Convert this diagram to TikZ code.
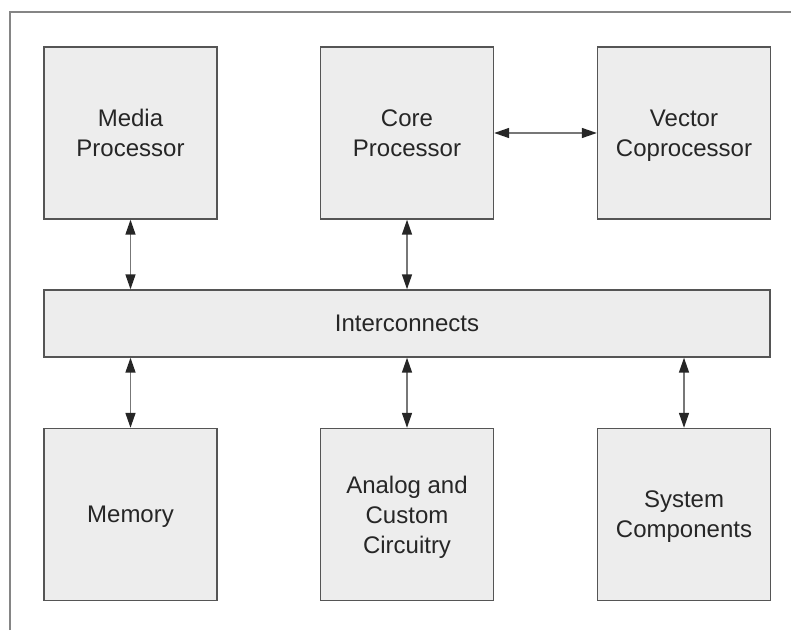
\documentclass[tikz,border=0pt]{standalone}
\usepackage{fontspec}
\setmainfont{Liberation Sans}
\usetikzlibrary{arrows.meta}

\definecolor{boxfill}{HTML}{EDEDED}
\definecolor{boxline}{HTML}{555555}
\definecolor{wire}{HTML}{777777}

\begin{document}
\begin{tikzpicture}[x=1pt,y=1pt,>={Triangle[length=15pt,width=10pt,color=black!85]}]
    % zero depth: text is centred on its cap line and last baseline
    \tikzstyle{block}=[draw=boxline,fill=boxfill,line width=1.4pt,minimum width=173pt,minimum height=172pt,align=center,font=\fontsize{24}{30}\selectfont,text=black!85,text depth=0pt]
    \tikzstyle{link}=[<->,draw=wire,line width=1.5pt]
    \useasboundingbox (0,0) rectangle (791,630);
    % outer frame
    \draw[wire!90,line width=1.3pt] (10,0) -- (10,618) -- (791,618);

    \node at (130.5,497) (media) [block] {Media\\Processor};
    \node at (407,497) (core) [block] {Core\\Processor};
    \node at (684,497) (vector) [block] {Vector\\Coprocessor};
    \node at (407,306.5) (inter) [block,minimum width=726pt,minimum height=67pt] {Interconnects};
    \node at (130.5,115.5) (memory) [block] {Memory};
    \node at (407,115.5) (analog) [block] {Analog and\\Custom\\Circuitry};
    \node at (684,115.5) (system) [block] {System\\Components};

    \draw[link] (core.east) -- (vector.west);
    \draw[link] (media.south) -- (media.south |- inter.north);
    \draw[link] (core.south) -- (inter.north);
    \draw[link] (memory.north) -- (memory.north |- inter.south);
    \draw[link] (analog.north) -- (inter.south);
    \draw[link] (system.north) -- (system.north |- inter.south);
\end{tikzpicture}
\end{document}
